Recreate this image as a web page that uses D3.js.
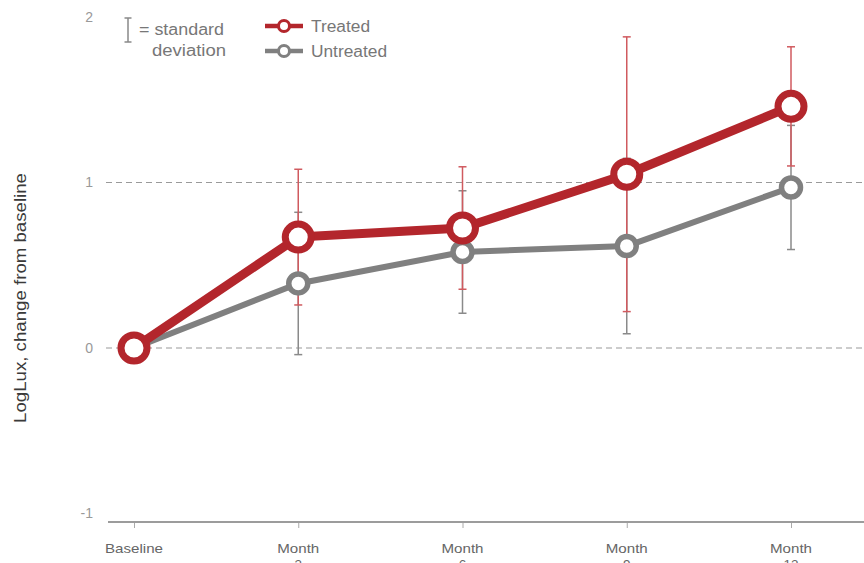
<!DOCTYPE html>
<html>
<head>
<meta charset="utf-8">
<script src="https://cdn.jsdelivr.net/npm/d3@7"></script>
<style>
  html, body { margin: 0; padding: 0; background: #fff; }
  svg { display: block; font-family: "Liberation Sans", Arial, sans-serif; }
</style>
</head>
<body>
<svg id="chart" width="864" height="563"></svg>
<script>
// Visit labels (two-line: "Month" + number)
const categories = ["Baseline", "Month\n3", "Month\n6", "Month\n9", "Month\n12"];
// Mean LogLux change from baseline
const treatedMean = [0, 0.67, 0.725, 1.05, 1.46];
const untreatedMean = [0, 0.39, 0.58, 0.616, 0.97];
// Standard deviations
const treatedSD = [0, 0.41, 0.37, 0.83, 0.36];
const untreatedSD = [0, 0.43, 0.37, 0.53, 0.375];
const yTicks = [-1, 0, 1, 2];
const gridValues = [0, 1];

const RED = "#b3262c", RED_BAR = "#d05a5f";
const GREY = "#808080", GREY_BAR = "#8a8a8a";

const svg = d3.select("#chart");

const x = d3.scalePoint().domain(categories).range([134, 791]);
const y = d3.scaleLinear().domain([-1, 2]).range([513.5, 17]);

// Helper for text stretched to a given width
function fitText(sel, w) {
  return sel.attr("textLength", w).attr("lengthAdjust", "spacingAndGlyphs");
}

// Dashed reference lines
svg.append("g").selectAll("line").data(gridValues).join("line")
  .attr("x1", 106).attr("x2", 864)
  .attr("y1", d => y(d)).attr("y2", d => y(d))
  .attr("stroke", "#9a9a9a").attr("stroke-width", 1.2)
  .attr("stroke-dasharray", "6,4");

// Y tick labels
svg.append("g").selectAll("text").data(yTicks).join("text")
  .attr("x", 93).attr("y", d => y(d)).attr("dy", "0.35em")
  .attr("text-anchor", "end")
  .attr("fill", "#999").attr("font-size", 14)
  .text(d => d);

// Y axis title
fitText(svg.append("text")
  .attr("transform", "translate(26,298) rotate(-90)")
  .attr("text-anchor", "middle")
  .attr("fill", "#3a3a3a").attr("font-size", 16)
  .text("LogLux, change from baseline"), 250);

// X axis
const axisY = 522;
const xAxis = d3.axisBottom(x).tickSize(6).tickFormat("");
const gx = svg.append("g").attr("transform", `translate(0,${axisY})`).call(xAxis);
gx.select(".domain").remove();
gx.selectAll(".tick line").attr("stroke", "#aaa").attr("stroke-width", 1);
svg.append("line")
  .attr("x1", 108).attr("x2", 864).attr("y1", axisY).attr("y2", axisY)
  .attr("stroke", "#9c9c9c").attr("stroke-width", 2);

svg.append("g").selectAll("text").data(categories).join("text")
  .attr("y", 553)
  .attr("text-anchor", "middle")
  .attr("fill", "#666").attr("font-size", 13.5)
  .each(function(d) {
    const t = d3.select(this);
    d.split("\n").forEach((p, i) => {
      const ts = t.append("tspan").attr("x", x(d)).attr("dy", i === 0 ? 0 : 16).text(p);
      if (p === "Baseline") fitText(ts, 58);
      if (p === "Month") fitText(ts, 42);
    });
  });

// Series definitions
const series = [
  { mean: untreatedMean, sd: untreatedSD, color: GREY, bar: GREY_BAR, lw: 6, r: 9.5, sw: 5.5 },
  { mean: treatedMean, sd: treatedSD, color: RED, bar: RED_BAR, lw: 9, r: 13, sw: 7 }
];

// Error bars (drawn beneath lines and markers)
const cap = 4;
series.forEach(s => {
  const g = svg.append("g");
  categories.forEach((c, i) => {
    if (s.sd[i] === 0) return;
    const cx = x(c), top = y(s.mean[i] + s.sd[i]), bot = y(s.mean[i] - s.sd[i]);
    g.append("line").attr("x1", cx).attr("x2", cx).attr("y1", top).attr("y2", bot)
      .attr("stroke", s.bar).attr("stroke-width", 1.5);
    [top, bot].forEach(yy => g.append("line")
      .attr("x1", cx - cap).attr("x2", cx + cap).attr("y1", yy).attr("y2", yy)
      .attr("stroke", s.bar).attr("stroke-width", 1.5));
  });
});

// Lines and markers
const line = d3.line().x((d, i) => x(categories[i])).y(d => y(d));
series.forEach(s => {
  svg.append("path").datum(s.mean)
    .attr("d", line).attr("fill", "none")
    .attr("stroke", s.color).attr("stroke-width", s.lw)
    .attr("stroke-linejoin", "round");
});
series.forEach(s => {
  svg.append("g").selectAll("circle").data(s.mean).join("circle")
    .attr("cx", (d, i) => x(categories[i])).attr("cy", d => y(d))
    .attr("r", s.r).attr("fill", "#fff")
    .attr("stroke", s.color).attr("stroke-width", s.sw);
});

// Legend: standard deviation key
const lg = svg.append("g");
lg.append("line").attr("x1", 128).attr("x2", 128).attr("y1", 18).attr("y2", 42)
  .attr("stroke", "#888").attr("stroke-width", 1.5);
[18, 42].forEach(yy => lg.append("line").attr("x1", 124.5).attr("x2", 131.5)
  .attr("y1", yy).attr("y2", yy).attr("stroke", "#888").attr("stroke-width", 1.5));
fitText(lg.append("text").attr("x", 139).attr("y", 35).attr("fill", "#777").attr("font-size", 16).text("= standard"), 85);
fitText(lg.append("text").attr("x", 152).attr("y", 56).attr("fill", "#777").attr("font-size", 16).text("deviation"), 74);

// Legend: series key
const legendItems = [
  { label: "Treated", color: RED, y: 26, w: 59 },
  { label: "Untreated", color: GREY, y: 51, w: 76 }
];
legendItems.forEach(it => {
  lg.append("line").attr("x1", 265).attr("x2", 303).attr("y1", it.y).attr("y2", it.y)
    .attr("stroke", it.color).attr("stroke-width", 4.5);
  lg.append("circle").attr("cx", 284).attr("cy", it.y).attr("r", 5.5)
    .attr("fill", "#fff").attr("stroke", it.color).attr("stroke-width", 3);
  fitText(lg.append("text").attr("x", 311).attr("y", it.y + 6)
    .attr("fill", "#777").attr("font-size", 16).text(it.label), it.w);
});
</script>
</body>
</html>
